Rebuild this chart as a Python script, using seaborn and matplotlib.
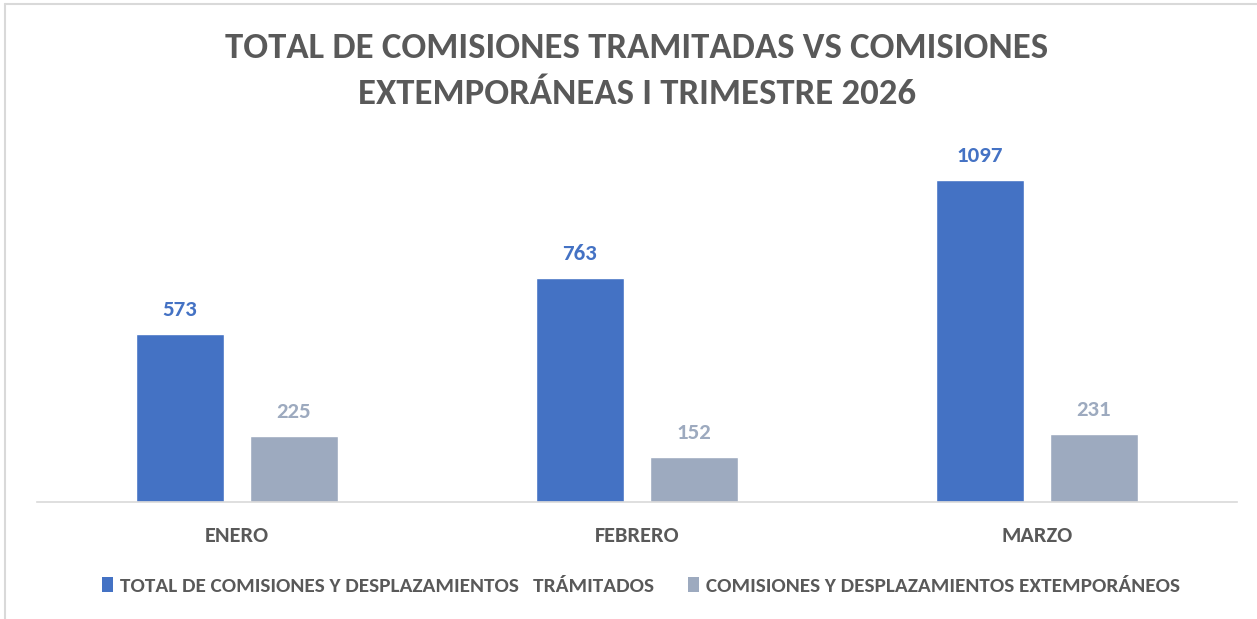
import matplotlib
matplotlib.use("Agg")
import matplotlib.pyplot as plt
import seaborn as sns
import pandas as pd
from matplotlib.patches import Patch

months = ["ENERO", "FEBRERO", "MARZO"]
tramitados = [573, 763, 1097]
extemporaneos = [225, 152, 231]
series_names = ["TOTAL DE COMISIONES Y DESPLAZAMIENTOS   TRÁMITADOS",
                "COMISIONES Y DESPLAZAMIENTOS EXTEMPORÁNEOS"]
title = "TOTAL DE COMISIONES TRAMITADAS VS COMISIONES\nEXTEMPORÁNEAS I TRIMESTRE 2026"
colors = ["#4472C4", "#9DAABF"]

df = pd.DataFrame({
    "mes": months * 2,
    "valor": tramitados + extemporaneos,
    "serie": [series_names[0]] * 3 + [series_names[1]] * 3,
})

sns.set_theme(style="white")
plt.rcParams['font.family'] = ['Carlito', 'DejaVu Sans']
txt = "#595959"

fig = plt.figure(figsize=(12.57, 6.19), dpi=100)
ax = fig.add_axes([37/1257, 1 - 502/619, 1200/1257, (502-140)/619])
sns.barplot(data=df, x="mes", y="valor", hue="serie", palette=colors,
            width=0.57, gap=0.22, ax=ax, saturation=1, legend=False)

ax.set_ylim(0, (502-140)/0.2935)
ax.set_xlim(-0.5, 2.5)
for i, cont in enumerate(ax.containers):
    ax.bar_label(cont, labels=[str(int(v)) for v in cont.datavalues], padding=10,
                 color=colors[i], fontsize=16.5, fontweight="bold")

ax.set_xlabel("")
ax.set_ylabel("")
ax.set_yticks([])
ax.tick_params(axis="x", length=0, pad=17)
for lab in ax.get_xticklabels():
    lab.set_fontsize(16)
    lab.set_fontweight("bold")
    lab.set_color(txt)
for s in ["top", "right", "left"]:
    ax.spines[s].set_visible(False)
ax.spines["bottom"].set_color("#D9D9D9")
ax.spines["bottom"].set_linewidth(1.2)

fig.text(637/1257, 1 - 71/619, title, ha="center", va="center", fontsize=26.5,
         fontweight="bold", color=txt, linespacing=1.5)

handles = [Patch(facecolor=c, edgecolor="none") for c in colors]
leg = fig.legend(handles, series_names, loc="center", bbox_to_anchor=(641/1257, 1 - 586/619),
                 ncol=2, frameon=False, handlelength=0.5, handleheight=0.7,
                 handletextpad=0.35, columnspacing=1.6, prop={"weight": "bold", "size": 15.3})
for t in leg.get_texts():
    t.set_color(txt)

fig.add_artist(plt.Line2D([5/1257, 1], [1 - 4/619, 1 - 4/619], color="#D9D9D9", lw=1.5))
fig.add_artist(plt.Line2D([5/1257, 5/1257], [0, 1 - 4/619], color="#D9D9D9", lw=1.5))

fig.savefig("out.png", dpi=100, facecolor="white")
